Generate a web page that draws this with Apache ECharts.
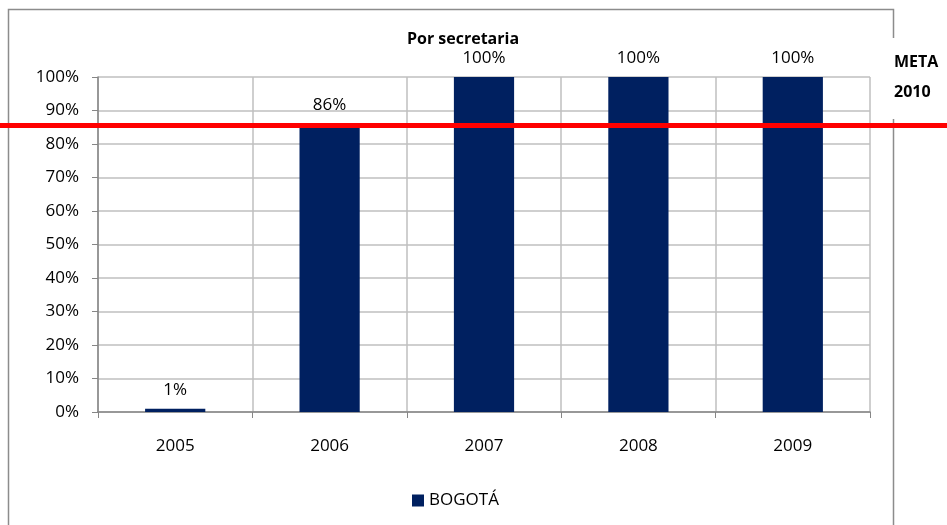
<!DOCTYPE html>
<html>
<head>
<meta charset="utf-8">
<script src="https://cdn.jsdelivr.net/npm/echarts@6/dist/echarts.min.js"></script>
<style>
html,body{margin:0;padding:0;background:#fff;}
#c{width:947px;height:525px;}
</style>
</head>
<body>
<div id="c"></div>
<script>
const categories = ['2005', '2006', '2007', '2008', '2009'];
const bogotaValues = [1, 86, 100, 100, 100];
const metaValue = 85.5;
const seriesName = 'BOGOTÁ';
const titleText = 'Por secretaria';
const metaLabel = 'META\n2010';

const font = '"Open Sans", "Noto Sans", sans-serif';
const chart = echarts.init(document.getElementById('c'), null, {renderer: 'canvas'});
chart.setOption({
  animation: false,
  backgroundColor: '#fff',
  textStyle: {fontFamily: font},
  title: {
    text: titleText, left: 458, top: 26, textAlign: 'center',
    textStyle: {fontSize: 16, fontWeight: 'bold', color: '#000', fontFamily: font}
  },
  legend: {
    data: [seriesName], bottom: 11, left: 407,
    itemWidth: 12, itemHeight: 12, icon: 'rect', itemGap: 6,
    textStyle: {fontSize: 17, color: '#000', fontFamily: font}
  },
  grid: {left: 98, right: 77, top: 77, bottom: 113, containLabel: false},
  xAxis: {
    type: 'category', data: categories, boundaryGap: true,
    axisLine: {lineStyle: {color: '#868686', width: 1.5}},
    axisTick: {show: true, length: 6, alignWithLabel: false, lineStyle: {color: '#868686'}},
    splitLine: {show: true, lineStyle: {color: '#bfbfbf', width: 1.5}},
    axisLabel: {margin: 26, fontSize: 17, color: '#000', fontFamily: font}
  },
  yAxis: {
    type: 'value', min: 0, max: 100, interval: 10,
    axisLine: {show: true, lineStyle: {color: '#868686', width: 1.5}},
    axisTick: {show: true, length: 6, lineStyle: {color: '#868686'}},
    splitLine: {show: true, lineStyle: {color: '#bfbfbf', width: 1.5}},
    axisLabel: {formatter: '{value}%', fontSize: 17, color: '#000', margin: 19, fontFamily: font}
  },
  series: [{
    name: seriesName, type: 'bar', data: bogotaValues, barWidth: '39%',
    itemStyle: {color: '#002060'},
    label: {show: true, position: 'top', formatter: '{c}%', fontSize: 17, color: '#000', distance: 10, fontFamily: font}
  }]
});

const yMeta = chart.convertToPixel({yAxisIndex: 0}, metaValue);
chart.setOption({
  graphic: [
    {type: 'polyline', z: 1, silent: true,
      shape: {points: [[8.5, 525], [8.5, 9.5], [893.5, 9.5], [893.5, 525]]},
      style: {stroke: '#8c8c8c', lineWidth: 1.5, fill: null}},
    {type: 'text', z: 5, left: 888, top: 38,
      style: {text: metaLabel, fontSize: 16, fontWeight: 'bold', fill: '#000', lineHeight: 30,
        fontFamily: font, backgroundColor: '#fff', padding: [9, 4, 12, 6]}},
    {type: 'line', z: 100, silent: true,
      shape: {x1: 0, y1: yMeta, x2: 947, y2: yMeta},
      style: {stroke: '#ff0000', lineWidth: 5}}
  ]
});
</script>
</body>
</html>
